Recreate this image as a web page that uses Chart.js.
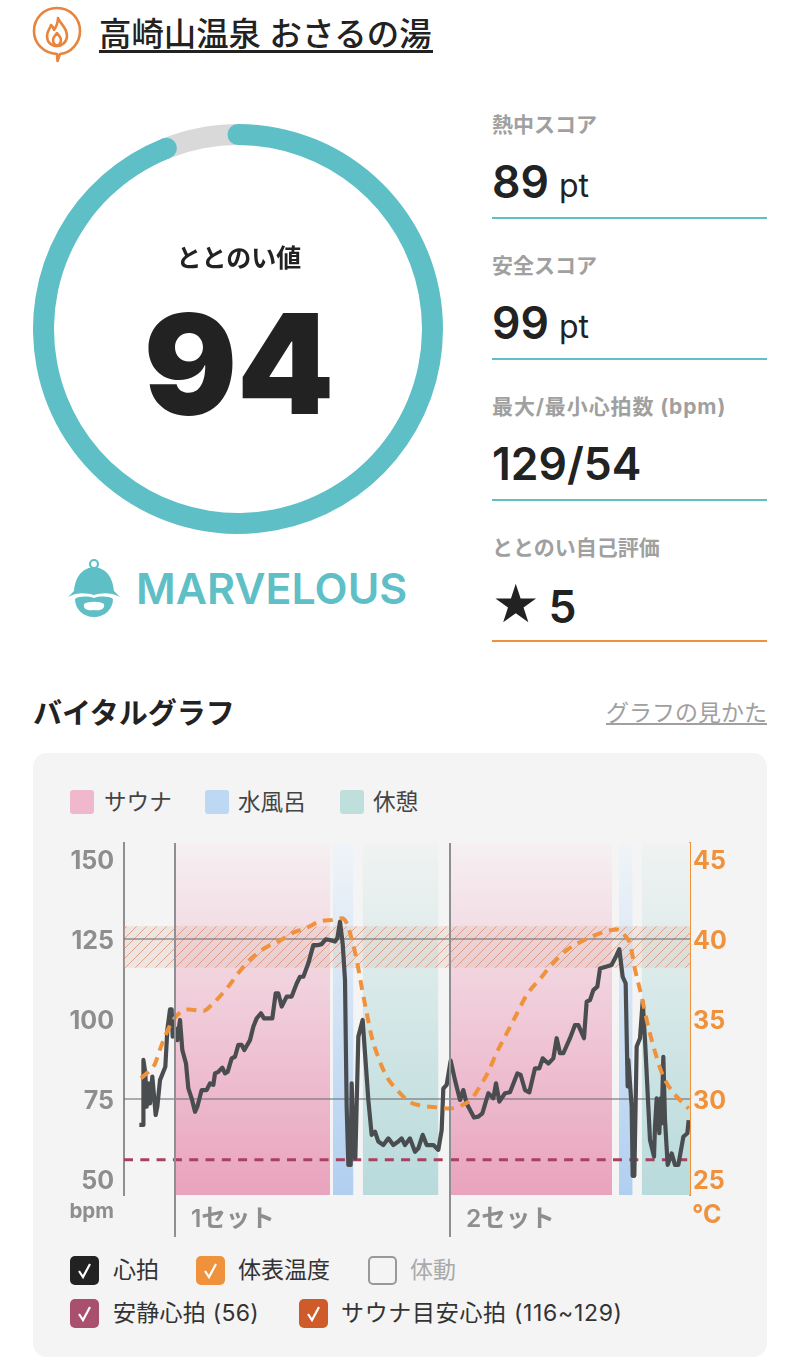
<!DOCTYPE html>
<html lang="ja"><head><meta charset="utf-8">
<script src="https://cdn.jsdelivr.net/npm/chart.js@4"></script>
<style>
html,body{margin:0;padding:0;background:#fff;width:800px;height:1357px;overflow:hidden}
body{font-family:Inter,"Noto Sans CJK JP",sans-serif;color:#222;position:relative}
.a{position:absolute;white-space:nowrap;line-height:1}
.lab{left:492px;font-size:21px;font-weight:700;color:#a0a0a0}
.val{left:492px;font-size:44.5px;font-weight:600;color:#222}
.val small{font-size:32px;font-weight:400;margin-left:10px;position:relative;top:-1px}
.rule{left:492px;width:275px;height:2px;background:#5fbfc6}
.sw{width:24px;height:24px;top:790px;border-radius:3px}
.lg{font-size:22.6px;color:#444;top:791px}
.box{width:29px;height:29px;border-radius:5px;box-sizing:border-box}
.box svg{position:absolute;left:0;top:0}
.ck{font-size:23px;color:#333}
canvas{position:absolute;display:block}
</style></head><body>

<svg class="a" style="left:30px;top:4px" width="56" height="60" viewBox="0 0 56 60" fill="none" stroke="#e8843c" stroke-width="2.6" stroke-linejoin="round" stroke-linecap="round">
<path d="M27 50 C13 49 4 39 4 27 C4 14 14 4 27 4 C40 4 50 14 50 27 C50 39 41 49 30 50 L27.5 57 Z" fill="#fff"/>
<path d="M28 14 C30 20 37 23 37 32 C37 38 32 42 27 42 C21 42 17 38 17 32 C17 27 20 25 21 21 C23 23 24 25 24 26 C26 23 28 19 28 14 Z"/>
<path d="M27 42 C23 40 22 36 24 33 L27 29 L30 33 C32 36 31 40 27 42 Z"/>
</svg>
<div class="a" style="left:99px;top:19px;font-size:32.4px;font-weight:500">高崎山温泉 おさるの湯</div>
<div class="a" style="left:99px;top:50px;width:334px;height:3px;background:#222"></div>

<canvas id="gauge" width="410" height="410" style="left:33px;top:124px;width:410px;height:410px"></canvas>
<div class="a" style="left:38px;width:402px;text-align:center;top:245.5px;font-size:25px;font-weight:700">ととのい値</div>
<div class="a" style="left:38px;width:402px;text-align:center;top:295px;font-size:138.5px;font-weight:900;color:#222">94</div>

<svg class="a" style="left:66px;top:556px" width="56" height="64" viewBox="0 0 56 64">
<circle cx="28" cy="8" r="4" fill="none" stroke="#5fbfc6" stroke-width="2.2"/>
<path d="M28 11 C14 12 9 24 8 35 L2 41 C12 36 20 37 28 39 C36 37 44 36 54 41 L48 35 C47 24 42 12 28 11 Z" fill="#5fbfc6"/>
<path d="M9 43 C13 40 22 40 28 42 C34 40 43 40 47 43 C47 53 39 61 28 61 C17 61 9 53 9 43 Z" fill="#5fbfc6"/>
<path d="M18 48 C22 45 34 45 38 48 C39 53 35 55 28 54 C21 55 17 53 18 48 Z" fill="#fff"/>
</svg>
<div class="a" style="left:136px;top:567px;font-size:43px;font-weight:600;color:#5fbfc6">MARVELOUS</div>

<div class="a lab" style="top:114px">熱中スコア</div>
<div class="a val" style="top:160px">89<small>pt</small></div>
<div class="a rule" style="top:217px"></div>
<div class="a lab" style="top:255px">安全スコア</div>
<div class="a val" style="top:301px">99<small>pt</small></div>
<div class="a rule" style="top:358px"></div>
<div class="a lab" style="top:396px;letter-spacing:.9px">最大/最小心拍数 (bpm)</div>
<div class="a val" style="top:442px">129/54</div>
<div class="a rule" style="top:499px"></div>
<div class="a lab" style="top:537px">ととのい自己評価</div>
<div class="a val" style="top:583px"><span style="font-family:'DejaVu Sans';font-size:53px;line-height:44px;margin-right:9px;position:relative;top:-1px">★</span>5</div>
<div class="a rule" style="top:640px;background:#f0923b"></div>

<div class="a" style="left:33px;top:699px;font-size:29px;font-weight:700">バイタルグラフ</div>
<div class="a" style="right:33px;top:702px;font-size:23px;color:#a0a0a0;text-decoration:underline">グラフの見かた</div>

<div class="a" style="left:33px;top:753px;width:734px;height:604px;background:#f4f4f4;border-radius:14px"></div>
<div class="a sw" style="left:70px;background:#f0b8cc"></div><div class="a lg" style="left:104px">サウナ</div>
<div class="a sw" style="left:205px;background:#bcd8f2"></div><div class="a lg" style="left:238px">水風呂</div>
<div class="a sw" style="left:340px;background:#bfdfdd"></div><div class="a lg" style="left:373px">休憩</div>

<canvas id="vital" width="734" height="410" style="left:33px;top:830px;width:734px;height:410px"></canvas>

<div class="a box" style="left:70px;top:1256px;background:#222"><svg width="29" height="29"><path d="M9 15 L13 21 L20 8" fill="none" stroke="#fff" stroke-width="2.2"/></svg></div>
<div class="a ck" style="left:113px;top:1259px">心拍</div>
<div class="a box" style="left:196px;top:1256px;background:#f0923b"><svg width="29" height="29"><path d="M9 15 L13 21 L20 8" fill="none" stroke="#fff" stroke-width="2.2"/></svg></div>
<div class="a ck" style="left:238px;top:1259px">体表温度</div>
<div class="a box" style="left:368px;top:1256px;border:2.5px solid #999"></div>
<div class="a ck" style="left:410px;top:1259px;color:#aaa">体動</div>
<div class="a box" style="left:70px;top:1299px;background:#a9506e"><svg width="29" height="29"><path d="M9 15 L13 21 L20 8" fill="none" stroke="#fff" stroke-width="2.2"/></svg></div>
<div class="a ck" style="left:113px;top:1302px;letter-spacing:.27px">安静心拍 (56)</div>
<div class="a box" style="left:299px;top:1299px;background:#cf5a2a"><svg width="29" height="29"><path d="M9 15 L13 21 L20 8" fill="none" stroke="#fff" stroke-width="2.2"/></svg></div>
<div class="a ck" style="left:341px;top:1302px;letter-spacing:.68px">サウナ目安心拍 (116~129)</div>

<script>
// ---- data ----
const gaugeValues = [94, 6];
const bpmTicks = [50, 75, 100, 125, 150];
const tempTicks = [25, 30, 35, 40, 45];
const guideBpm = [75, 125];
const restingBpm = 56;
const targetBpm = [116, 129];
const setStarts = [612, 3912];
const setLabels = ['1セット', '2セット'];
const saunaSpans = [[612, 2472], [3912, 5856]];
const waterSpans = [[2508, 2754], [5940, 6104]];
const restSpans = [[2864, 3774], [6212, 6792]];
const hrSeconds = [184,232,233,256,272,292,312,340,380,400,432,472,496,520,552,572,584,612,640,672,700,744,772,812,852,880,932,992,1032,1072,1092,1132,1180,1212,1244,1292,1332,1372,1412,1444,1512,1552,1592,1644,1680,1780,1820,1852,1892,1952,2012,2072,2112,2152,2212,2272,2332,2372,2420,2472,2532,2560,2592,2624,2652,2672,2692,2720,2732,2760,2776,2812,2864,2892,2932,2972,3012,3052,3112,3172,3232,3292,3332,3372,3432,3492,3532,3584,3632,3712,3772,3812,3832,3872,3920,3972,4032,4072,4112,4200,4252,4300,4372,4432,4464,4504,4572,4632,4720,4760,4812,4864,4932,4984,5024,5092,5152,5192,5232,5272,5352,5412,5452,5520,5552,5592,5632,5680,5712,5792,5852,5912,5944,5984,6020,6044,6052,6092,6104,6124,6152,6192,6224,6252,6292,6312,6360,6372,6392,6424,6440,6452,6472,6492,6524,6572,6612,6652,6712,6760,6776];
const hrBpm = [66.9,66.9,87.2,83,72.6,79.9,73.6,82,70,72.6,80.9,83.5,85.1,96.6,103,103,94.5,97.1,93.4,99.7,90.3,86.1,78.3,75.2,71,72.6,77.8,77.8,79.9,79.4,83,83.5,84.8,83,83.5,87.7,88.2,91.9,91.9,90.3,93.4,97.6,100.2,101.8,100.2,100.2,108,108,103.9,107,107,111.1,113.2,113.2,117.4,123.1,123.1,123.4,124.9,124.7,124.2,125.2,130.4,123.6,112.2,72.6,54.4,54.4,79.9,57,56.5,94.5,99.7,89.3,74.7,63.8,64.8,61.7,60.6,62.7,60.6,61.7,62.7,60.6,62.7,58.5,59.6,63.8,60.6,60.6,59.1,65.3,78.3,79.4,87,80.9,74.7,77.8,73.6,69.2,69.5,70.5,76.8,75.2,79.9,74.2,76.8,77.1,83,82.5,77.8,77.1,84.6,84.6,87.7,86.1,87.7,94,89.3,89.3,94,98.1,98.1,94,105.4,105.9,109,110.1,115.8,116.4,116.9,120,121.8,113.2,111.1,78.9,87.2,72.6,51,51,91.4,94,105.4,93.4,72.6,62.2,57,66.4,75.2,64.3,75.2,67.4,88.2,68.4,54.4,58,54.4,54.4,63.2,64.3,68.4];
const tempSeconds = [204,292,372,432,492,572,672,772,952,1072,1232,1392,1552,1712,1872,2032,2192,2352,2512,2612,2672,2732,2792,2852,2912,2972,3052,3152,3272,3432,3552,3712,3912,4052,4172,4272,4372,4472,4572,4692,4832,4992,5152,5312,5472,5632,5792,5932,6012,6072,6132,6212,6292,6392,6472,6592,6776];
const tempC = [31.3,31.7,32.2,33.1,33.9,34.8,35.4,35.6,35.5,36,36.9,38,38.9,39.5,39.9,40.4,40.7,41.1,41.2,41.3,41,40,38.7,37,35.4,33.9,32.6,31.4,30.6,29.8,29.6,29.5,29.4,29.6,30,30.8,31.7,32.9,33.9,35.1,36.5,37.5,38.5,39.3,39.8,40.2,40.5,40.6,40.2,39.7,38.1,36.4,34.5,32.6,31.4,30.4,29.4];

// ---- gauge ----
const FONT = 'Inter,"Noto Sans CJK JP",sans-serif';
const roundCaps = {
  id: 'roundCaps',
  afterDatasetsDraw(chart) {
    const arc = chart.getDatasetMeta(0).data[0];
    const c = chart.ctx, r = (arc.outerRadius + arc.innerRadius) / 2, w = (arc.outerRadius - arc.innerRadius) / 2;
    c.save(); c.fillStyle = '#5fbfc6';
    [arc.startAngle, arc.endAngle].forEach(a => {
      c.beginPath(); c.arc(arc.x + r * Math.cos(a), arc.y + r * Math.sin(a), w, 0, Math.PI * 2); c.fill();
    });
    c.restore();
  }
};
new Chart(document.getElementById('gauge'), {
  type: 'doughnut',
  data: { labels: ['ととのい値', ''], datasets: [{ data: gaugeValues, backgroundColor: ['#5fbfc6', '#d9d9d9'], borderWidth: 0 }] },
  options: { responsive: false, animation: false, devicePixelRatio: 1, cutout: 184,
    plugins: { legend: { display: false }, tooltip: { enabled: false } } },
  plugins: [roundCaps]
});

// ---- vital graph ----
const cv = document.getElementById('vital'), g = cv.getContext('2d');
const PAD_TOP = 13, PLOT_BOTTOM = 365;
function grad(top, bottom) {
  const l = g.createLinearGradient(0, PAD_TOP, 0, PLOT_BOTTOM);
  l.addColorStop(0, top); l.addColorStop(1, bottom); return l;
}
const tile = document.createElement('canvas'); tile.width = tile.height = 10;
const t = tile.getContext('2d');
t.fillStyle = 'rgba(215,190,175,.28)'; t.fillRect(0, 0, 10, 10);
t.strokeStyle = 'rgba(214,105,65,.52)'; t.lineWidth = 1;
[[-1, 1, 1, -1], [0, 10, 10, 0], [9, 11, 11, 9]].forEach(p => { t.beginPath(); t.moveTo(p[0], p[1]); t.lineTo(p[2], p[3]); t.stroke(); });
const hatch = g.createPattern(tile, 'repeat');

const X_MAX = 6792, Y_MIN = 45, Y_MAX = 155;
const base = { pointRadius: 0, borderWidth: 0, yAxisID: 'y' };
function band(span, fillStyle, label) {
  return { ...base, label, order: 10, data: [{ x: span[0], y: Y_MAX }, { x: span[1], y: Y_MAX }], fill: 'start', backgroundColor: fillStyle, borderColor: 'transparent' };
}
const pinkG = grad('rgba(246,240,242,1)', 'rgba(233,163,189,1)');
const blueG = grad('rgba(240,244,248,1)', 'rgba(176,207,240,1)');
const tealG = grad('rgba(240,243,242,1)', 'rgba(184,218,219,1)');
const datasets = [
  ...saunaSpans.map(s => band(s, pinkG, 'サウナ')),
  ...waterSpans.map(s => band(s, blueG, '水風呂')),
  ...restSpans.map(s => band(s, tealG, '休憩')),
  { ...base, label: 'サウナ目安心拍', order: 8, data: [{ x: 0, y: targetBpm[1] }, { x: X_MAX, y: targetBpm[1] }], fill: { value: targetBpm[0] }, backgroundColor: hatch, borderColor: 'transparent' },
  ...guideBpm.map(v => ({ ...base, label: 'guide', order: 7, data: [{ x: 0, y: v }, { x: X_MAX, y: v }], borderWidth: 1.6, borderColor: 'rgba(110,110,115,.72)', fill: false })),
  { ...base, label: '安静心拍', order: 5, data: [{ x: 0, y: restingBpm }, { x: X_MAX, y: restingBpm }], borderWidth: 3, borderColor: '#a8405f', borderDash: [9, 7.3], fill: false },
  { ...base, label: '心拍', order: 3, data: hrSeconds.map((x, i) => ({ x, y: hrBpm[i] })), borderWidth: 4.2, borderColor: '#4a4d50', fill: false, borderJoinStyle: 'round', tension: 0 },
  { ...base, label: '体表温度', order: 2, yAxisID: 'yT', data: tempSeconds.map((x, i) => ({ x, y: tempC[i] })), borderWidth: 4, borderColor: '#f0923b', borderDash: [10, 7], fill: false, cubicInterpolationMode: 'monotone' }
];
const setMarks = {
  id: 'setMarks',
  afterDraw(chart) {
    const c = chart.ctx, x = chart.scales.x, a = chart.chartArea;
    c.save();
    setStarts.forEach((s, i) => {
      const px = x.getPixelForValue(s);
      c.strokeStyle = '#8f8f93'; c.lineWidth = 2;
      c.beginPath(); c.moveTo(px, a.top); c.lineTo(px, a.bottom + 42); c.stroke();
      c.fillStyle = '#8e8e8e'; c.font = '600 24.5px ' + FONT; c.textBaseline = 'middle'; c.textAlign = 'left';
      c.fillText(setLabels[i], px + 16, a.bottom + 25);
    });
    c.fillStyle = '#8e8e8e'; c.font = '700 20.5px ' + FONT; c.textAlign = 'right';
    c.fillText('bpm', a.left - 10, a.bottom + 17);
    c.fillStyle = '#f0923b'; c.font = '700 25px ' + FONT; c.textAlign = 'left';
    c.fillText('°C', a.right + 2, a.bottom + 20);
    c.restore();
  }
};
new Chart(cv, {
  type: 'line',
  data: { datasets },
  options: {
    responsive: false, animation: false, devicePixelRatio: 1, parsing: true,
    layout: { padding: { top: PAD_TOP, bottom: 410 - PLOT_BOTTOM, left: 0, right: 0 } },
    plugins: { legend: { display: false }, tooltip: { enabled: false } },
    scales: {
      x: { type: 'linear', min: 0, max: X_MAX, display: false },
      y: { position: 'left', min: Y_MIN, max: Y_MAX,
        afterFit(s) { s.width = 91; s.paddingTop = 0; s.paddingBottom = 0; },
        afterBuildTicks(s) { s.ticks = bpmTicks.map(value => ({ value })); },
        grid: { display: false, drawTicks: false },
        border: { display: true, color: '#8f8f93', width: 2 },
        ticks: { color: '#8e8e8e', padding: 10, labelOffset: 2, font: { family: FONT, size: 25, weight: '700' } } },
      yT: { position: 'right', min: 24, max: 46,
        afterFit(s) { s.width = 77; s.paddingTop = 0; s.paddingBottom = 0; },
        afterBuildTicks(s) { s.ticks = tempTicks.map(value => ({ value })); },
        grid: { display: false, drawTicks: false },
        border: { display: true, color: '#f0923b', width: 2 },
        ticks: { color: '#f0923b', padding: 3, labelOffset: 2, font: { family: FONT, size: 25, weight: '700' } } }
    }
  },
  plugins: [setMarks]
});
</script>
</body></html>
